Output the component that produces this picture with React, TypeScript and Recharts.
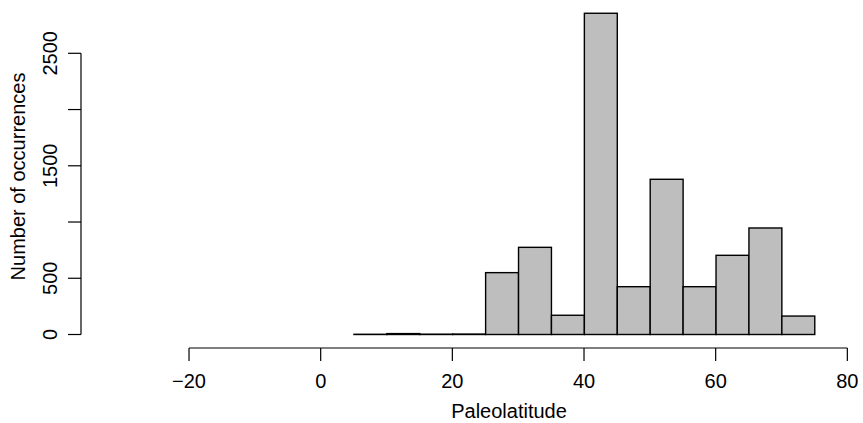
import React from 'react';
import { ComposedChart, Bar, XAxis, YAxis, ReferenceLine, Label } from 'recharts';

// Histogram bins (midpoints of 5-degree bins) and counts
const BIN_MIDS = [7.5, 12.5, 17.5, 22.5, 27.5, 32.5, 37.5, 42.5, 47.5, 52.5, 57.5, 62.5, 67.5, 72.5];
const COUNTS = [2, 8, 3, 4, 550, 775, 171, 2856, 425, 1380, 425, 704, 947, 164];
const BIN_WIDTH = 5;

const X_TICKS = [-20, 0, 20, 40, 60, 80];
const Y_TICKS = [0, 500, 1000, 1500, 2000, 2500];
const Y_LABELED = [0, 500, 1500, 2500];

const X_DOMAIN: [number, number] = [-36.41, 81.62];
const Y_DOMAIN: [number, number] = [-120, 2965];

const data = BIN_MIDS.map((mid, i) => ({ mid, count: COUNTS[i] }));

const FONT = '"Liberation Sans", Arial, Helvetica, sans-serif';
const FS = 20;

const W = 863;
const H = 423;
const MARGIN = { top: 1, right: 5, bottom: 15, left: 0 };
const Y_AXIS_W = 81;
const X_AXIS_H = 60;
const PLOT_W = W - MARGIN.left - MARGIN.right - Y_AXIS_W;
const BAR_PX = (BIN_WIDTH * PLOT_W) / (X_DOMAIN[1] - X_DOMAIN[0]);

const fmtNum = (v: number) => String(v).replace('-', '\u2212');

const YTick = (props: any) => {
  const { x, y, payload } = props;
  if (!Y_LABELED.includes(payload.value)) return null;
  const bx = x - 9;
  return (
    <text
      x={bx}
      y={y}
      transform={`rotate(-90, ${bx}, ${y})`}
      textAnchor="middle"
      fontSize={FS}
      fontFamily={FONT}
      fill="#000"
    >
      {payload.value}
    </text>
  );
};

// Histogram bar: centred on the bin midpoint given by the axis scale, full bin width
const HistBar = (props: any) => {
  const { x, y, width, height } = props;
  if (x == null || y == null) return null;
  const cx = x + width / 2;
  return (
    <rect
      x={cx - BAR_PX / 2}
      y={y}
      width={BAR_PX}
      height={Math.max(height, 0)}
      fill="#BEBEBE"
      stroke="#000"
      strokeWidth={1.4}
    />
  );
};

export default function App() {
  return (
    <div style={{ position: 'fixed', left: 0, top: 0, background: '#fff' }}>
      <ComposedChart width={W} height={H} data={data} margin={MARGIN}>
        <XAxis
          dataKey="mid"
          type="number"
          domain={X_DOMAIN}
          allowDataOverflow
          ticks={X_TICKS}
          interval={0}
          axisLine={false}
          tickLine={{ stroke: '#000', strokeWidth: 1.2 }}
          tickSize={13}
          tickMargin={13}
          height={X_AXIS_H}
          tickFormatter={fmtNum}
          tick={{ fill: '#000', fontSize: FS, fontFamily: FONT }}
        >
          <Label
            content={(p: any) => {
              const vb = p.viewBox || { x: 81, y: 348, width: 777, height: 60 };
              return (
                <text
                  x={vb.x + vb.width / 2 + 39.5}
                  y={vb.y + 69.5}
                  textAnchor="middle"
                  fontSize={FS}
                  fontFamily={FONT}
                  fill="#000"
                >
                  Paleolatitude
                </text>
              );
            }}
          />
        </XAxis>
        <YAxis
          type="number"
          domain={Y_DOMAIN}
          allowDataOverflow
          ticks={Y_TICKS}
          interval={0}
          width={Y_AXIS_W}
          axisLine={false}
          tickLine={{ stroke: '#000', strokeWidth: 1.2 }}
          tickSize={13}
          tick={<YTick />}
        >
          <Label
            content={(p: any) => {
              const vb = p.viewBox || { x: 0, y: 1, width: 81, height: 347 };
              const cx = vb.x + 25;
              const cy = vb.y + vb.height / 2 + 2;
              return (
                <text
                  x={cx}
                  y={cy}
                  transform={`rotate(-90, ${cx}, ${cy})`}
                  textAnchor="middle"
                  fontSize={FS}
                  fontFamily={FONT}
                  fill="#000"
                >
                  Number of occurrences
                </text>
              );
            }}
          />
        </YAxis>
        <ReferenceLine
          segment={[{ x: X_TICKS[0], y: Y_DOMAIN[0] }, { x: X_TICKS[X_TICKS.length - 1], y: Y_DOMAIN[0] }]}
          stroke="#000"
          strokeWidth={1.2}
          ifOverflow="visible"
        />
        <ReferenceLine
          segment={[{ x: X_DOMAIN[0], y: Y_TICKS[0] }, { x: X_DOMAIN[0], y: Y_TICKS[Y_TICKS.length - 1] }]}
          stroke="#000"
          strokeWidth={1.2}
          ifOverflow="visible"
        />
        <Bar
          dataKey="count"
          fill="#BEBEBE"
          stroke="#000"
          barSize={BAR_PX}
          shape={<HistBar />}
          isAnimationActive={false}
        />
      </ComposedChart>
    </div>
  );
}
